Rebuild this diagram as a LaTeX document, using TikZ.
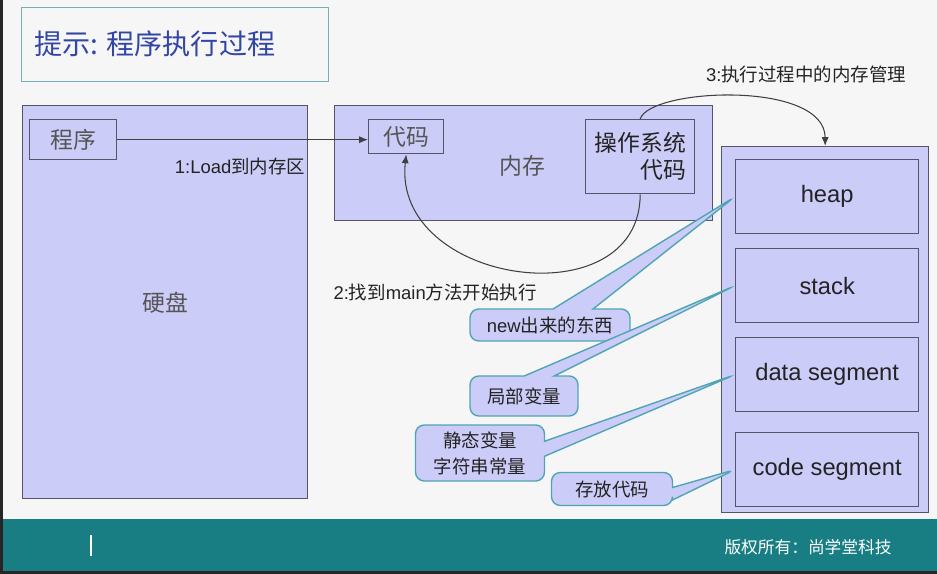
\documentclass[tikz,border=0pt]{standalone}
\usepackage{fontspec}
\setmainfont{Liberation Sans}
\newfontfamily\cjk{Noto Sans CJK SC}
\usetikzlibrary{arrows.meta,positioning,calc,shapes.callouts}
\definecolor{lav}{RGB}{204,204,248}
\definecolor{boxline}{RGB}{85,85,105}
\definecolor{calloutline}{RGB}{80,165,180}
\definecolor{footbar}{RGB}{24,126,131}
\definecolor{paper}{RGB}{246,246,246}
\definecolor{titleblue}{RGB}{50,70,165}
\definecolor{titleframe}{RGB}{120,175,180}
\definecolor{inktext}{RGB}{35,35,35}
\definecolor{softtext}{RGB}{85,85,85}
\tikzset{
  panel/.style={draw=boxline, fill=lav, line width=0.8pt, anchor=north west, inner sep=0pt},
  smallbox/.style={draw=boxline, fill=lav, line width=0.8pt, anchor=north west,
    font=\cjk\fontsize{13}{16}\selectfont, text=softtext},
  segbox/.style={draw=boxline, fill=lav, line width=0.8pt, anchor=north west,
    minimum width=3.66cm, minimum height=1.48cm, font=\fontsize{13.5}{16}\selectfont, text=inktext},
  callbox/.style={rectangle callout, draw=calloutline, fill=lav, line width=0.8pt,
    rounded corners=5pt, inner sep=0pt, align=center, text=inktext,
    font=\fontsize{10.5}{13}\selectfont},
  steplabel/.style={font=\fontsize{10.5}{13}\selectfont, text=inktext, inner sep=1pt},
  flow/.style={-{Latex[length=5pt,width=4pt]}, line width=0.6pt, draw=black!75},
}
\newcommand{\zh}[1]{{\cjk #1}}

\begin{document}
\begin{tikzpicture}[x=0.02cm, y=-0.02cm]

  %% ---- page, footer ----
  \fill[paper] (0,0) rectangle (937,574);
  \fill[black!85] (0,0) rectangle (3,574);
  \fill[footbar] (3,519) rectangle (937,571);
  \fill[black!85] (0,571) rectangle (937,574);
  \draw[white, line width=0.6pt] (91,535) -- (91,556);
  \node[font=\cjk\fontsize{9.5}{11}\selectfont, text=white] (copyright) at (808,547) {版权所有：尚学堂科技};

  %% ---- title ----
  \node[draw=titleframe, line width=0.8pt, anchor=north west, minimum width=6.14cm,
    minimum height=1.48cm, inner sep=0pt] (titlebox) at (21,7) {};
  \node[anchor=west, font=\cjk\fontsize{16}{18}\selectfont, text=titleblue] (title)
    at (28,44) {提示: 程序执行过程};

  %% ---- hard disk ----
  \node[panel, minimum width=5.7cm, minimum height=7.86cm] (disk) at (22,105) {};
  \node[font=\cjk\fontsize{13}{16}\selectfont, text=softtext] (disklabel) at (165,303) {硬盘};
  \node[smallbox, minimum width=1.74cm, minimum height=0.8cm] (prog) at (29,119) {程序};

  %% ---- memory ----
  \node[panel, minimum width=7.56cm, minimum height=2.3cm] (mem) at (334,105) {};
  \node[font=\cjk\fontsize{13}{16}\selectfont, text=softtext] (memlabel) at (522,166) {内存};
  \node[smallbox, minimum width=2.18cm, minimum height=1.48cm, align=right, text=inktext,
    font=\cjk\fontsize{13}{15.3}\selectfont] (os) at (585,119) {操作系统\\代码};
  \node[smallbox, minimum width=1.5cm, minimum height=0.68cm] (code) at (368,119) {代码};

  %% ---- memory layout ----
  \node[panel, minimum width=4.14cm, minimum height=7.32cm] (layout) at (721,146) {};
  \node[segbox] (heap)  at (735,159) {heap};
  \node[segbox] (stack) at (735,248) {stack};
  \node[segbox] (data)  at (735,337) {data segment};
  \node[segbox] (cseg)  at (735,432) {code segment};

  %% ---- steps ----
  \draw[flow] (prog.east) -- (prog.east -| code.west);
  \node[steplabel] (step1) at (240,167) {1:Load\zh{到内存区}};

  \draw[flow] (os.south) .. controls (640,320) and (392,285) .. (code.south);
  \node[steplabel] (step2) at (435,292) {2:\zh{找到}main\zh{方法开始执行}};

  \draw[flow] (os.north) .. controls (650,88) and (825,80) .. (layout.north);
  \node[steplabel] (step3) at (806,74) {3:\zh{执行过程中的内存管理}};

  %% ---- callouts ----
  \node[callbox, minimum width=3.2cm, minimum height=0.64cm, callout pointer width=0.8cm,
    callout absolute pointer={(heap.west)}] (newobj) at (550,325) {new\zh{出来的东西}};
  \node[callbox, minimum width=2.16cm, minimum height=0.8cm, callout pointer width=0.6cm,
    callout absolute pointer={(stack.west)}] (locals) at (524,396) {\zh{局部变量}};
  \node[callbox, minimum width=2.58cm, minimum height=1.12cm, callout pointer width=0.3cm,
    font=\cjk\fontsize{10.5}{14.7}\selectfont,
    callout absolute pointer={(data.west)}] (statics) at (480,453) {静态变量\\字符串常量};
  \node[callbox, minimum width=2.42cm, minimum height=0.66cm, callout pointer width=0.25cm,
    callout absolute pointer={(cseg.west)}] (codestore) at (612,489) {\zh{存放代码}};

\end{tikzpicture}
\end{document}
